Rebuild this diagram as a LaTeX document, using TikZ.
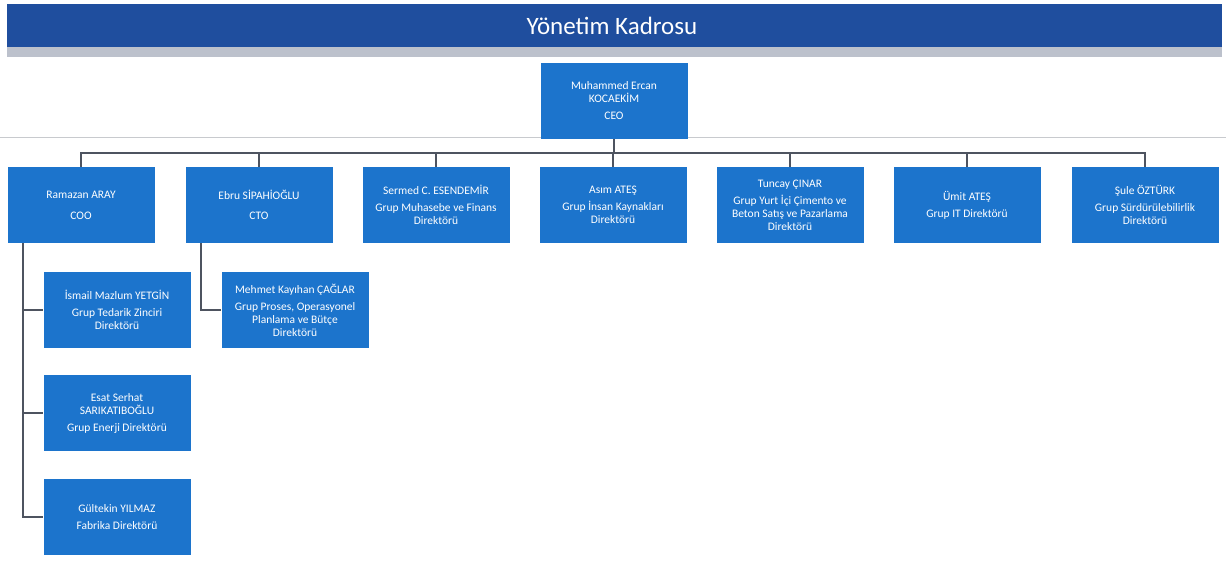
\documentclass[tikz,border=0pt]{standalone}
\usepackage{fontspec}
\setmainfont{Carlito}
\definecolor{barblue}{RGB}{31,78,158}
\definecolor{stripgray}{RGB}{188,193,204}
\definecolor{boxblue}{RGB}{28,116,204}
\definecolor{linegray}{RGB}{78,84,96}
\definecolor{rulegray}{RGB}{200,202,206}
\begin{document}
\begin{tikzpicture}[x=1pt,y=-1pt,
 box/.style={rectangle, fill=boxblue, text=white, minimum width=147pt, minimum height=76pt, inner sep=2pt, align=center, font=\fontsize{11.5}{13}\selectfont},
 link/.style={draw=linegray, line width=1.3pt}]
 \useasboundingbox (0,0) rectangle (1226,561);
 \fill[barblue] (7,4) rectangle (1222,47);
 \fill[stripgray] (7,47) rectangle (1222,57);
 \node[text=white, font=\fontsize{25}{28}\selectfont] (title) at (612,26) {Yönetim Kadrosu};
 \draw[rulegray, line width=1pt] (0,138) -- (1226,138);
 \node[box] (ceo) at (614,101) {Muhammed Ercan\\KOCAEKİM\\[4pt]CEO};
 \node[box] (coo) at (81,205) {Ramazan ARAY\\[8pt]COO};
 \node[box] (cto) at (259,205) {Ebru SİPAHİOĞLU\\[7pt]CTO};
 \node[box] (muh) at (436,205) {Sermed C. ESENDEMİR\\[4pt]Grup Muhasebe ve Finans\\Direktörü};
 \node[box] (ik) at (613,205) {Asım ATEŞ\\[4pt]Grup İnsan Kaynakları\\Direktörü};
 \node[box] (satis) at (790,205) {Tuncay ÇINAR\\[4pt]Grup Yurt İçi Çimento ve\\Beton Satış ve Pazarlama\\Direktörü};
 \node[box] (it) at (967,205) {Ümit ATEŞ\\[4pt]Grup IT Direktörü};
 \node[box] (surd) at (1145,205) {Şule ÖZTÜRK\\[4pt]Grup Sürdürülebilirlik\\Direktörü};
 \node[box] (ted) at (117,310) {İsmail Mazlum YETGİN\\[4pt]Grup Tedarik Zinciri\\Direktörü};
 \node[box] (enerji) at (117,413) {Esat Serhat\\SARIKATIBOĞLU\\[4pt]Grup Enerji Direktörü};
 \node[box] (fab) at (117,517) {Gültekin YILMAZ\\[4pt]Fabrika Direktörü};
 \node[box] (plan) at (295,310) {Mehmet Kayıhan ÇAĞLAR\\[4pt]Grup Proses, Operasyonel\\Planlama ve Bütçe\\Direktörü};
 \coordinate (bus) at (614,153);
 \draw[link] (ceo.south) -- (bus);
 \foreach \n in {coo,cto,muh,ik,satis,it,surd}
  \draw[link] (bus) -| (\n.north);
 \foreach \n in {ted,enerji,fab}
  \draw[link] ([xshift=-58pt]coo.south) |- (\n.west);
 \draw[link] ([xshift=-58pt]cto.south) |- (plan.west);
\end{tikzpicture}
\end{document}
